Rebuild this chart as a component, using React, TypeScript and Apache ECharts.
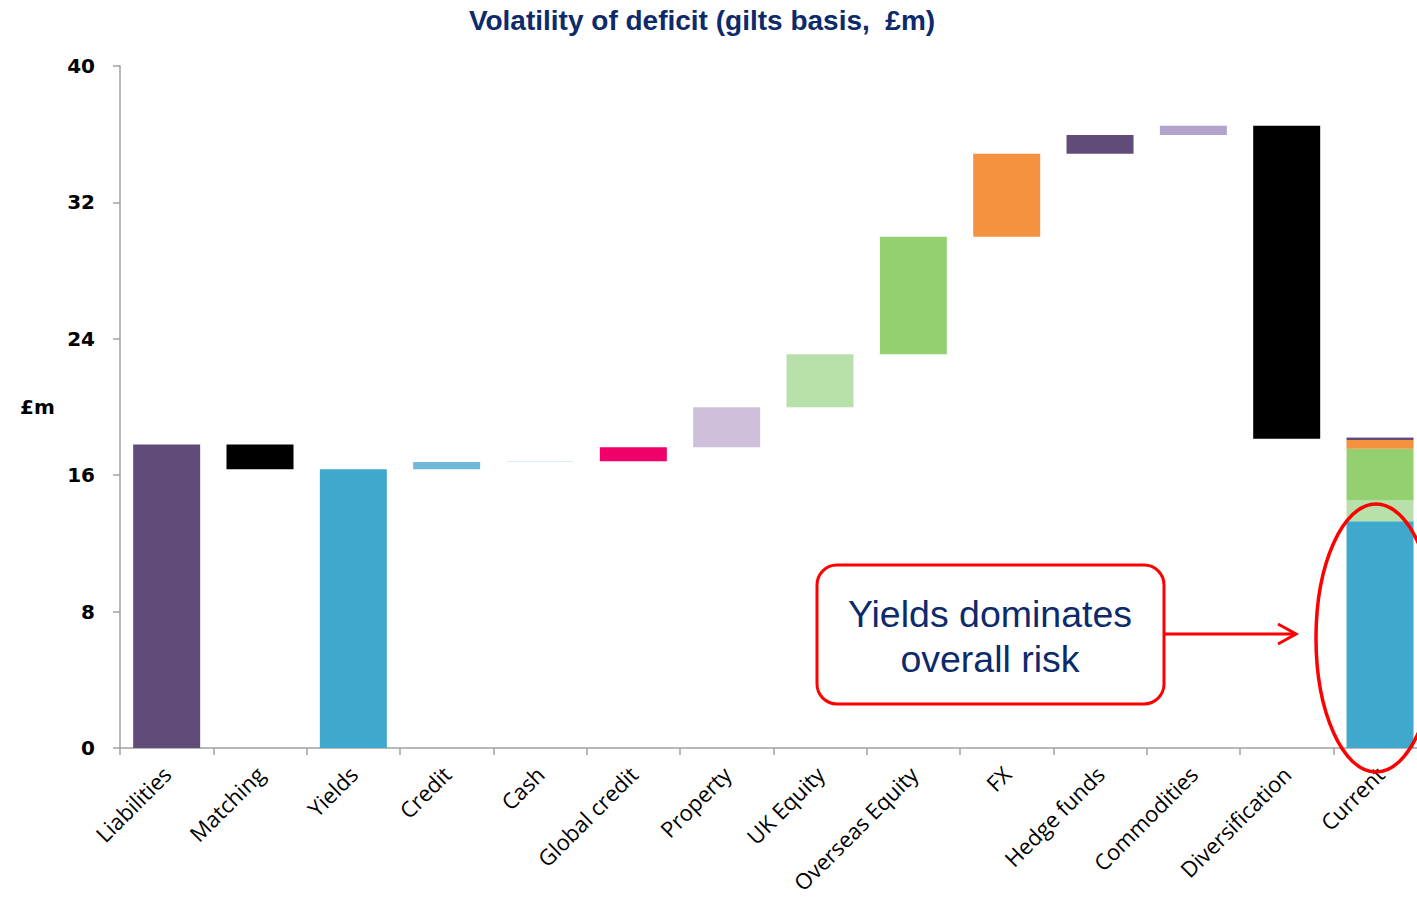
import React, { useEffect, useRef } from "react";
import * as echarts from "echarts";

// Waterfall steps, one per category except the final stacked "Current" bar
const categories = [
  "Liabilities",
  "Matching",
  "Yields",
  "Credit",
  "Cash",
  "Global credit",
  "Property",
  "UK Equity",
  "Overseas Equity",
  "FX",
  "Hedge funds",
  "Commodities",
  "Diversification",
  "Current",
];

// Change in £m for each step (subtotal steps give the level itself)
const stepValues = [17.8, -1.45, 16.35, 0.42, 0.05, 0.82, 2.35, 3.1, 6.9, 4.87, 1.1, 0.53, -18.35];
const subtotalSteps = ["Liabilities", "Yields"];
const stepColours = [
  "#614b79",
  "#000000",
  "#40a8cc",
  "#6fbad9",
  "#d6e6ef",
  "#f20069",
  "#cec0da",
  "#b7e0aa",
  "#95d070",
  "#f59240",
  "#614b79",
  "#b2a3ca",
  "#000000",
];

// Composition of the current deficit volatility
const currentParts = ["Yields", "UK Equity", "Overseas Equity", "FX", "Hedge funds", "Commodities"];
const currentValues = [13.3, 1.25, 3.0, 0.52, 0.12, 0.05];
const currentColours = ["#40a8cc", "#b7e0aa", "#95d070", "#f59240", "#614b79", "#b2a3ca"];

const yTicks = { min: 0, max: 40, interval: 8 };

const NAVY = "#0d2a6b";
const RED = "#ff0000";

function buildWaterfall() {
  const bases: number[] = [];
  const heights: any[] = [];
  let level = 0;
  stepValues.forEach((v, i) => {
    if (subtotalSteps.includes(categories[i])) {
      bases.push(0);
      heights.push({ value: v, itemStyle: { color: stepColours[i] } });
      level = v;
    } else if (v >= 0) {
      bases.push(level);
      heights.push({ value: v, itemStyle: { color: stepColours[i] } });
      level += v;
    } else {
      level += v;
      bases.push(level);
      heights.push({ value: -v, itemStyle: { color: stepColours[i] } });
    }
  });
  // the Current column is drawn by the component series
  bases.push(0);
  heights.push(0);
  return { bases, heights };
}

export default function App() {
  const ref = useRef<HTMLDivElement>(null);

  useEffect(() => {
    if (!ref.current) return;
    const chart = echarts.init(ref.current, null, { renderer: "svg" });
    const { bases, heights } = buildWaterfall();
    const lastIdx = categories.length - 1;

    const partSeries = currentParts.map((name, k) => ({
      name: "Current – " + name,
      type: "bar",
      stack: "w",
      barWidth: 67,
      itemStyle: { color: currentColours[k] },
      data: categories.map((_, i) => (i === lastIdx ? currentValues[k] : "-")),
    }));

    chart.setOption({
      animation: false,
      backgroundColor: "#ffffff",
      title: {
        text: "Volatility of deficit (gilts basis,  £m)",
        left: 697,
        textAlign: "center",
        top: 1,
        textStyle: {
          fontFamily: "Liberation Sans",
          fontWeight: "bold",
          fontSize: 28,
          color: NAVY,
        },
      },
      grid: {
        left: 120,
        top: 66,
        width: 1306.7,
        bottom: 153,
        containLabel: false,
        outerBoundsMode: "none",
      },
      xAxis: {
        type: "category",
        data: categories,
        axisLine: { lineStyle: { color: "#a0a0a0", width: 1.5 } },
        axisTick: { show: true, length: 7, lineStyle: { color: "#a0a0a0", width: 1.5 } },
        axisLabel: {
          rotate: 45,
          interval: 0,
          margin: 22,
          fontFamily: "Open Sans",
          fontSize: 22,
          color: "#000000",
        },
      },
      yAxis: {
        type: "value",
        min: yTicks.min,
        max: yTicks.max,
        interval: yTicks.interval,
        splitLine: { show: false },
        axisLine: { show: true, lineStyle: { color: "#a0a0a0", width: 1.5 } },
        axisTick: { show: true, length: 7, lineStyle: { color: "#a0a0a0", width: 1.5 } },
        axisLabel: {
          margin: 25,
          fontFamily: "DejaVu Sans",
          fontWeight: "bold",
          fontSize: 20,
          color: "#000000",
        },
      },
      series: [
        {
          name: "base",
          type: "bar",
          stack: "w",
          barWidth: 67,
          itemStyle: { color: "transparent" },
          emphasis: { disabled: true },
          data: bases,
        },
        {
          name: "step",
          type: "bar",
          stack: "w",
          barWidth: 67,
          data: heights,
        },
        ...partSeries,
      ],
      graphic: [
        {
          type: "text",
          left: 20,
          top: 397,
          z: 100,
          style: {
            text: "£m",
            fontFamily: "DejaVu Sans",
            fontWeight: "bold",
            fontSize: 20,
            fill: "#000000",
          },
        },
        {
          type: "rect",
          z: 100,
          shape: { x: 817, y: 565, width: 347, height: 139, r: 20 },
          style: { fill: "#ffffff", stroke: RED, lineWidth: 3 },
        },
        {
          type: "text",
          z: 101,
          x: 990,
          y: 636,
          style: {
            text: "Yields dominates\noverall risk",
            fontFamily: "Liberation Sans",
            fontSize: 37.5,
            lineHeight: 45,
            fill: NAVY,
            align: "center",
            verticalAlign: "middle",
          },
        },
        {
          type: "line",
          z: 100,
          shape: { x1: 1164, y1: 634, x2: 1296, y2: 634 },
          style: { stroke: RED, lineWidth: 3 },
        },
        {
          type: "polyline",
          z: 100,
          shape: { points: [[1278, 624], [1296, 634], [1278, 644]] },
          style: { stroke: RED, lineWidth: 3, fill: "none" },
        },
        {
          type: "ellipse",
          z: 100,
          shape: { cx: 1376, cy: 638, rx: 60, ry: 134 },
          style: { stroke: RED, lineWidth: 3.5, fill: "none" },
        },
      ],
    });

    return () => chart.dispose();
  }, []);

  // the plot runs slightly past the right edge of the visible frame
  return (
    <div
      style={{
        position: "absolute",
        left: 0,
        top: 0,
        width: 1417,
        height: 901,
        overflow: "hidden",
      }}
    >
      <div ref={ref} style={{ width: 1440, height: 901 }} />
    </div>
  );
}
